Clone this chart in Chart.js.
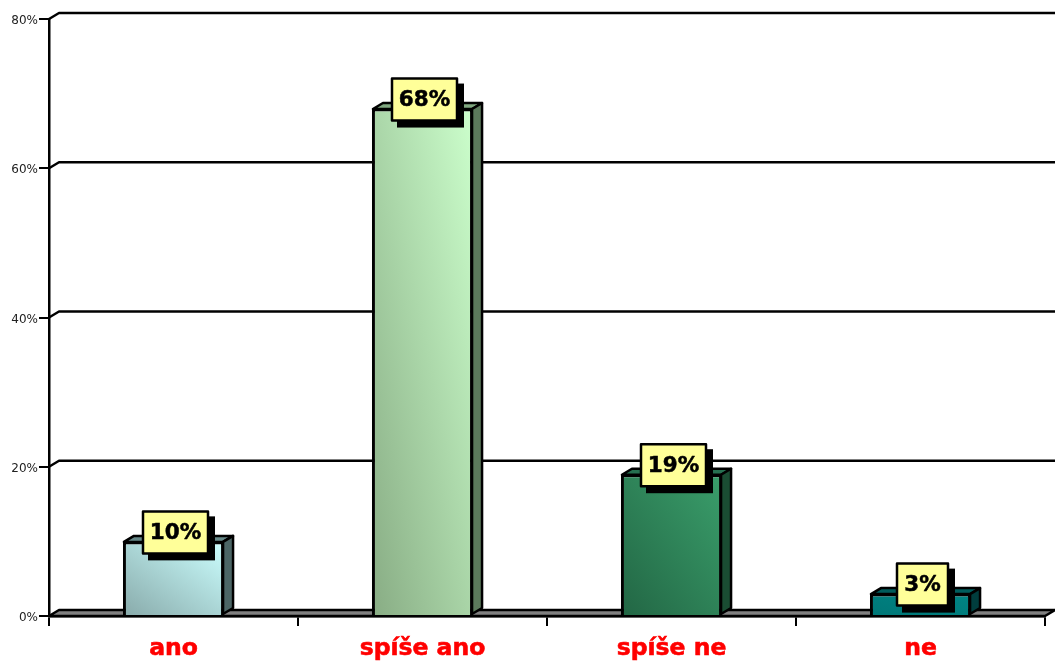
<!DOCTYPE html>
<html>
<head>
<meta charset="utf-8">
<title>Graf</title>
<script src="https://cdn.jsdelivr.net/npm/chart.js@4"></script>
<style>
  html, body { margin: 0; padding: 0; background: #fff; }
  canvas { display: block; }
</style>
</head>
<body>
<canvas id="myChart" width="1055" height="663"></canvas>
<script>
// Values of the chart
const categories = ['ano', 'spíše ano', 'spíše ne', 'ne'];
const values = [10, 68, 19, 3];
const yTicks = [0, 20, 40, 60, 80];

// Colours of each bar: gradient start/end on the front, then top and side faces
const frontStart = ['#88aaaa', '#88ac84', '#226644', '#007777'];
const frontEnd = ['#ccffff', '#ccffcc', '#3a9e6b', '#008484'];
const topFaces = ['#668888', '#80a880', '#267050', '#005c5c'];
const sideFaces = ['#4c6666', '#5c7a5c', '#1a4d33', '#003d3d'];

// Depth of the 3D effect
const depthX = 10;
const depthY = -6;
const lineW = 2.5;

function quad(ctx, pts, fill) {
    ctx.beginPath();
    ctx.moveTo(pts[0][0], pts[0][1]);
    for (let i = 1; i < pts.length; i++) ctx.lineTo(pts[i][0], pts[i][1]);
    ctx.closePath();
    ctx.fillStyle = fill;
    ctx.fill();
    ctx.stroke();
}

// Floor and back wall grid, under the bars
const wallPlugin = {
    id: 'wall',
    beforeDatasetsDraw(chart) {
        const ctx = chart.ctx;
        const a = chart.chartArea;
        const y = chart.scales.y;
        ctx.save();
        ctx.lineWidth = lineW;
        ctx.strokeStyle = '#000';
        ctx.lineJoin = 'round';
        yTicks.forEach(t => {
            const py = y.getPixelForValue(t);
            if (t === 0) return;
            ctx.beginPath();
            ctx.moveTo(a.left, py);
            ctx.lineTo(a.left + depthX, py + depthY);
            ctx.lineTo(a.right + depthX, py + depthY);
            ctx.stroke();
        });
        quad(ctx, [
            [a.left, a.bottom],
            [a.left + depthX, a.bottom + depthY],
            [a.right + depthX, a.bottom + depthY],
            [a.right, a.bottom]
        ], '#808080');
        ctx.restore();
    }
};

// Top and side faces of the bars, then the value boxes
const facesPlugin = {
    id: 'faces',
    afterDatasetsDraw(chart) {
        const ctx = chart.ctx;
        const bars = chart.getDatasetMeta(0).data;
        ctx.save();
        ctx.lineWidth = lineW;
        ctx.strokeStyle = '#000';
        ctx.lineJoin = 'round';
        bars.forEach((bar, i) => {
            // the bar border is inset, the faces start on its middle
            const l = bar.x - bar.width / 2 + 1;
            const r = bar.x + bar.width / 2 - 1;
            const t = bar.y + 0.5;
            const b = bar.base - 1;
            quad(ctx, [[l, t], [l + depthX, t + depthY], [r + depthX, t + depthY], [r, t]], topFaces[i]);
            quad(ctx, [[r, t], [r + depthX, t + depthY], [r + depthX, b + depthY], [r, b]], sideFaces[i]);
        });

        ctx.font = 'bold 21.5px "DejaVu Sans"';
        ctx.textAlign = 'center';
        ctx.textBaseline = 'middle';
        bars.forEach((bar, i) => {
            const text = values[i] + '%';
            const w = Math.round(ctx.measureText(text).width) + 14;
            const h = 42;
            const cx = bar.x + 2;
            const cy = bar.y - 9;
            ctx.fillStyle = '#000';
            ctx.fillRect(cx - w / 2 + 5, cy - h / 2 + 5, w + 2, h + 2);
            ctx.fillStyle = '#ffff99';
            ctx.fillRect(cx - w / 2, cy - h / 2, w, h);
            ctx.strokeRect(cx - w / 2, cy - h / 2, w, h);
            ctx.fillStyle = '#000';
            ctx.fillText(text, cx, cy + 1);
            // a thin outline makes the digits as heavy as the axis captions
            ctx.lineWidth = 0.5;
            ctx.strokeText(text, cx, cy + 1);
            ctx.lineWidth = lineW;
        });
        ctx.restore();
    }
};

const ctx = document.getElementById('myChart').getContext('2d');
new Chart(ctx, {
    type: 'bar',
    data: {
        labels: categories,
        datasets: [{
            data: values,
            borderColor: '#000',
            borderWidth: 3,
            categoryPercentage: 1,
            barPercentage: 0.406,
            // Gradient from bottom left to top right, its colour bands parallel
            // to the other diagonal of the bar
            backgroundColor(c) {
                const i = c.dataIndex;
                if (c.type !== 'data') return '#fff';
                const x = c.chart.scales.x;
                const y = c.chart.scales.y;
                const w = x.width / categories.length * 0.406;
                const cx = x.getPixelForValue(i);
                const y0 = y.getPixelForValue(0);
                const y1 = y.getPixelForValue(values[i]);
                // scales have no pixels yet on the first pass
                if (![w, cx, y0, y1].every(Number.isFinite)) return frontEnd[i];
                const h = y0 - y1;
                const k = w * h / (w * w + h * h);
                const cy = (y0 + y1) / 2;
                const g = c.chart.ctx.createLinearGradient(cx - h * k, cy + w * k, cx + h * k, cy - w * k);
                g.addColorStop(0, frontStart[i]);
                g.addColorStop(1, frontEnd[i]);
                return g;
            }
        }]
    },
    options: {
        responsive: false,
        animation: false,
        layout: { padding: { top: 19, right: 10, left: 0, bottom: 0 } },
        plugins: { legend: { display: false }, tooltip: { enabled: false } },
        scales: {
            x: {
                afterFit(scale) { scale.height = 47; },
                grid: {
                    offset: true,
                    drawOnChartArea: false,
                    color: '#000',
                    lineWidth: 2,
                    tickLength: 10
                },
                border: { color: '#000', width: 2.5 },
                ticks: {
                    color: '#ff0000',
                    padding: 9,
                    maxRotation: 0,
                    textStrokeColor: '#ff0000',
                    textStrokeWidth: 0.6,
                    font: { family: '"DejaVu Sans"', size: 23.5, weight: 'bold' }
                }
            },
            y: {
                min: 0,
                max: 80,
                afterFit(scale) { scale.width = 49; },
                afterBuildTicks(scale) { scale.ticks = yTicks.map(v => ({ value: v })); },
                grid: {
                    drawOnChartArea: false,
                    color: '#000',
                    lineWidth: 2,
                    tickLength: 10
                },
                border: { color: '#000', width: 2.5 },
                ticks: {
                    color: '#222',
                    padding: 1,
                    labelOffset: 2,
                    callback: v => v + '%',
                    font: { family: '"DejaVu Sans"', size: 12 }
                }
            }
        }
    },
    plugins: [wallPlugin, facesPlugin]
});
</script>
</body>
</html>
